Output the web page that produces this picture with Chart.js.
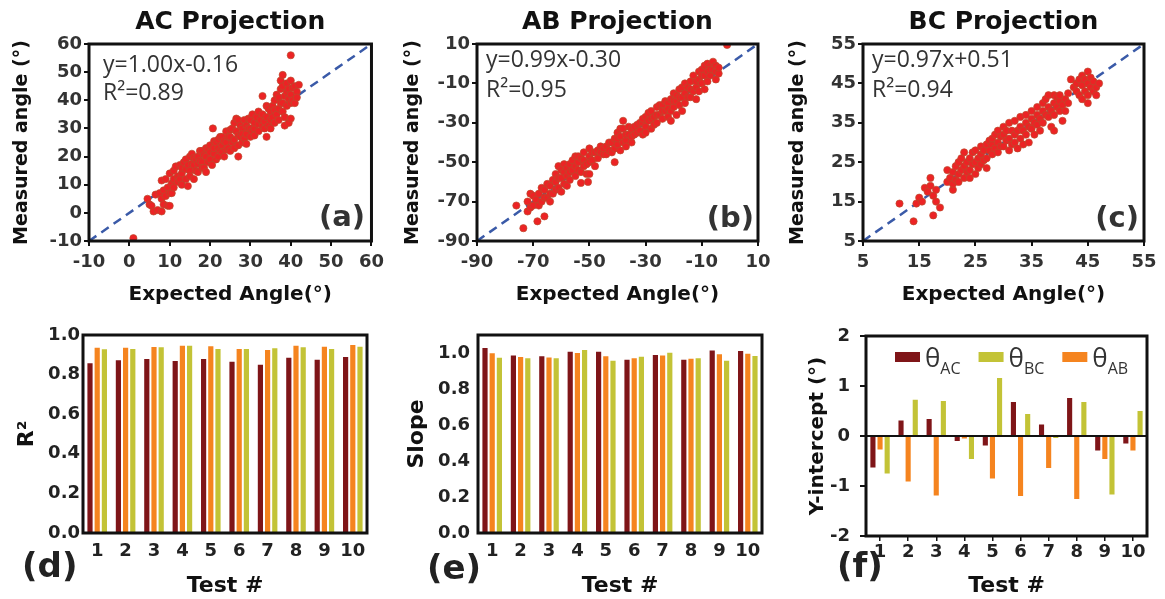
<!DOCTYPE html>
<html>
<head>
<meta charset="utf-8">
<script src="https://cdn.jsdelivr.net/npm/chart.js@4.4.1/dist/chart.umd.min.js"></script>
<style>
  body { margin: 0; background: #fff; }
  #page { position: relative; width: 1165px; height: 599px; overflow: hidden; background: #fff; }
  #page canvas { position: absolute; }
</style>
</head>
<body>
<div id="page">
  <canvas id="chartA" width="390" height="310" style="left:0;top:0"></canvas>
  <canvas id="chartB" width="390" height="310" style="left:390px;top:0"></canvas>
  <canvas id="chartC" width="390" height="310" style="left:775px;top:0"></canvas>
  <canvas id="chartD" width="390" height="289" style="left:0;top:310px"></canvas>
  <canvas id="chartE" width="390" height="289" style="left:390px;top:310px"></canvas>
  <canvas id="chartF" width="390" height="289" style="left:775px;top:310px"></canvas>
</div>
<script>
// ---- measured vs expected angles (degrees), [expected, measured]
const acPoints = [
  [1,-9],[4.5,5],[5,3],[5.5,2.5],[6,0.5],[6.5,6.5],[7,1],[7.5,7],[8,0.5],[8,5],[8,11.5],[8.5,3],[8.5,8],[9,6],
  [9,12],[9.5,2.5],[9.5,9],[10,2.5],[10,14],[10,7],[10.5,10.5],[10.5,7],[11,9],[11,12],
  [11,15],[11.5,16.5],[12,13],[12,11],[12.5,12],[12.5,17],[13,14],[13,10],[13,16],[13.5,18],[14,19],[14,12],
  [14,15.5],[14.5,17],[14.5,9.5],[15,15],[15,20],[15,13],[15.5,21],[15.5,17.5],[16,12],[16,17],[16,19.5],
  [16.5,19],[16.5,15],[17,20],[17,14.5],[17,17.5],[17.5,22],[17.5,18.5],[18,18],[18,22],[18,16],[18.5,16],
  [18.5,20.5],[19,20],[19,14.5],[19,23],[19.5,22.5],[19.5,18],[20,19],[20,24],[20,21.5],[20.5,17],[20.7,30],
  [21,21],[21,23],[21,25.5],[21.5,25],[21.5,19],[22,20],[22,26],[22,23],[22.5,22],[22.5,27],[23,24],[23,27],
  [23,21.5],[23.5,20],[23.5,25.5],[24,25],[24,29],[24,22.5],[24.5,23],[24.5,27],[25,27],[25,22],[25,29.5],
  [25.5,25],[25.5,30],[26,26],[26,32],[26,23],[26.5,29],[26.5,33.5],[27,20],[27,24],[27,33],[27,27.5],
  [27.5,27],[27.5,31],[28,30],[28,25],[28,28],[28.5,33],[28.5,26.5],[29,28],[29,31],[29,24.5],[29.5,30],
  [29.5,33.5],[30,27],[30,33],[30,30],[30.5,35],[30.5,29],[31,30],[31,32],[31,27.5],[31.5,34],[32,29],
  [32,36],[32,31.5],[32.5,33],[33,31],[33,41.5],[33,35],[33.5,30],[33.5,32.5],[34,27],[34,34],[34,38],
  [34.5,37],[34.5,31],[35,33],[35,30],[35,36],[35.5,38],[35.5,34],[36,32],[36,40],[36,36.5],[36.5,35],
  [36.5,42],[37,41],[37,37],[37,33],[37.5,47],[37.5,44],[37.5,39],[38,49],[38,45],[38,39],[38,36],
  [38.5,34],[38.5,31],[38.5,41.5],[39,43],[39,38],[39,46],[39.5,32],[39.5,44],[39.5,40.5],[40,47],[40,42],
  [40,33.5],[40,39],[40,56],[40.5,40],[40.5,44.5],[41,45],[41,39],[41.5,43],[42,45.5],[41.5,41]
];

const abPoints = [
  [-1,9.5],[-73.5,-83.5],[-76,-72],[-68.5,-80],[-66,-77.5],[-53,-60.5],[-50.5,-60],[-41,-50],
  [-72,-75],[-72,-70],[-71,-73],[-71,-66],[-70,-72],[-70,-67],[-69,-69],[-68,-72],[-68,-66],[-67,-70],
  [-67,-63],[-66,-64],[-66,-68],[-65,-68],[-65,-61],[-64,-62],[-64,-70],[-64,-66],[-63,-66],[-63,-59],
  [-62,-60],[-62,-56],[-62,-64],[-61,-63],[-61,-52],[-61,-58],[-60,-58],[-60,-65],[-60,-54],[-59,-55],
  [-59,-61],[-59,-51],[-58,-53],[-58,-57],[-58,-62],[-57,-59],[-57,-51],[-57,-55],[-56,-54],[-56,-49],
  [-55,-52],[-55,-57],[-55,-47],[-54,-50],[-54,-47],[-54,-54],[-53,-55],[-53,-48],[-52,-49],[-52,-45],
  [-52,-52],[-51,-51],[-51,-56],[-50,-47],[-50,-43],[-50,-56],[-50,-50],[-49,-49],[-49,-45],[-48,-45],
  [-48,-52],[-47,-44],[-47,-48],[-46,-42],[-46,-45],[-45,-46],[-45,-43],[-44,-42],[-44,-46],[-43,-44],
  [-43,-40],[-42,-40],[-42,-45],[-41,-38],[-41,-43],[-40,-35],[-40,-41],[-40,-38],[-39,-37],[-39,-44],
  [-39,-33],[-38,-29],[-38,-33],[-38,-40],[-37,-39],[-37,-42],[-37,-36],[-36,-36],[-36,-32],[-35,-33],
  [-35,-40],[-35,-37],[-34,-36],[-34,-32],[-33,-31],[-33,-35],[-32,-34],[-32,-30],[-31,-30],[-31,-36],
  [-31,-28],[-30,-32],[-30,-27],[-30,-35],[-29,-29],[-29,-25],[-28,-33],[-28,-24],[-28,-28],[-27,-27],
  [-27,-31],[-26,-30],[-26,-22],[-26,-26],[-25,-26],[-25,-21],[-24,-28],[-24,-21],[-24,-24],[-23,-24],
  [-23,-19],[-22,-20],[-22,-27],[-22,-23],[-21,-18],[-21,-24],[-21,-29],[-20,-22],[-20,-15],[-20,-19],
  [-19,-26],[-19,-19],[-19,-16],[-18,-13],[-18,-21],[-18,-17],[-17,-17],[-17,-24],[-17,-12],[-16,-15],
  [-16,-20],[-16,-10],[-15,-12],[-15,-17],[-14,-17],[-14,-9],[-14,-13],[-13,-14],[-13,-6],[-12,-12],
  [-12,-18],[-12,-9],[-11,-8],[-11,-14],[-11,-4],[-10,-10],[-10,-3],[-10,-6],[-9,-6],[-9,-13],[-9,-1],
  [-8,-4],[-8,-9],[-8,0],[-7,-1],[-7,-6],[-7,-3],[-6,-3],[-6,1],[-5,-1],[-5,-8],[-5,-4],[-4,-5],[-4,-2]
];

const bcPoints = [
  [11.5,14.5],[14,10],[14.5,14.5],[15,16],[15.5,15],[16,18.5],[16.5,17.5],[17,19],[17,21],[17.5,11.5],
  [17.5,16.5],[18,15],[18,18],[18.7,13.5],
  [20,23],[20,20],[20.5,21],[21,18],[21,22.5],[21,19.5],[21.5,24],[21.5,20.5],[22,22],[22,25],[22,20],
  [22.5,23],[22.5,26],[23,21],[23,24],[23,27.5],[23.5,22.5],[23.5,25],[24,23],[24,26],[24,21],[24.5,24.5],
  [24.5,27.5],[25,22],[25,25],[25,28],[25.5,26],[25.5,23.5],[26,27],[26,24.5],[26,29],[26.5,25.5],[26.5,28],
  [27,26],[27,29.5],[27,23.5],[27.5,28],[27.5,30.5],[28,27],[28,29.5],[28,31],[28.5,28.5],[28.5,32],[29,30],
  [29,27.5],[29,33],[29.5,29],[29.5,31.5],[30,32],[30,29],[30,34],[30.5,30.5],[30.5,33],[31,31],[31,28],
  [31,35],[31.5,33],[31.5,29.5],[32,32],[32,35.5],[32,30],[32.5,33],[32.5,28.5],[33,34],[33,31],[33,36.5],
  [33.5,33],[33.5,29.5],[34,35],[34,32],[34,37],[34.5,34],[34.5,30],[35,36],[35,33.5],[35,38],[35.5,35],
  [35.5,32],[36,37],[36,34.5],[36,39],[36.5,36],[36.5,33],[37,38],[37,35],[37,40],[37.5,37],[37.5,41],
  [38,39],[38,36.5],[38,42],[38.5,38],[38.5,34],[39,40],[39,37],[39,42],[39,33],[39.5,39],[39.5,41.5],
  [40,40.5],[40,38],[40,42],[40.5,39.5],[40.5,35.5],[41,41],[41,38],[41.5,40],[41.5,42.5],[42,46],
  [42.5,44],[43,43],[43,45],[43.5,46],[43.5,42],[44,44.5],[44,41],[44,47],[44.5,43],[44.5,46],[45,45],
  [45,42],[45,48],[45,40],[45.5,44],[45.5,46.5],[46,43],[46,45.5],[46.5,44],[46.5,42],[47,45]
];

// ---- per-test fit parameters
const testLabels = ['1', '2', '3', '4', '5', '6', '7', '8', '9', '10'];

const r2AC = [0.863, 0.877, 0.884, 0.874, 0.884, 0.870, 0.855, 0.890, 0.880, 0.894];
const r2AB = [0.941, 0.941, 0.944, 0.951, 0.948, 0.934, 0.929, 0.951, 0.946, 0.954];
const r2BC = [0.933, 0.934, 0.943, 0.951, 0.934, 0.934, 0.938, 0.943, 0.934, 0.946];

const slopeAC = [1.034, 0.991, 0.987, 1.013, 1.013, 0.968, 0.994, 0.968, 1.019, 1.017];
const slopeAB = [1.004, 0.983, 0.981, 1.006, 0.987, 0.976, 0.991, 0.974, 0.998, 1.002];
const slopeBC = [0.979, 0.976, 0.976, 1.022, 0.963, 0.985, 1.007, 0.976, 0.963, 0.989];

const interceptAC = [-0.65, 0.33, 0.36, -0.12, -0.21, 0.70, 0.25, 0.78, -0.31, -0.17];
const interceptAB = [-0.29, -0.93, -1.21, -0.07, -0.87, -1.22, -0.66, -1.28, -0.48, -0.31];
const interceptBC = [-0.77, 0.745, 0.72, -0.48, 1.18, 0.46, -0.06, 0.70, -1.19, 0.52];

const COLORS = {
  ac: '#7f1518',
  ab: '#f5841f',
  bc: '#c3c336',
  dot: '#ec2325',
  fit: '#3a5aa8',
  text: '#333333'
};

const BOLD = "'DejaVu Sans', sans-serif";
const PLAIN = "'Open Sans', 'Noto Sans', sans-serif";

// black box around every plot area
Chart.register({
  id: 'frame',
  afterDraw(chart) {
    const { ctx, chartArea: a } = chart;
    ctx.save();
    ctx.strokeStyle = '#111';
    ctx.lineWidth = 3;
    ctx.strokeRect(a.left, a.top, a.right - a.left, a.bottom - a.top);
    ctx.restore();
  }
});

// free text (fit equations, panel letters) in canvas coordinates
function notes(items) {
  return {
    id: 'notes',
    afterDraw(chart) {
      const ctx = chart.ctx;
      items.forEach(n => {
        ctx.save();
        ctx.font = n.font;
        ctx.fillStyle = n.color || COLORS.text;
        ctx.textAlign = n.align || 'left';
        ctx.textBaseline = 'middle';
        ctx.fillText(n.text, n.x, n.y);
        ctx.restore();
      });
    }
  };
}

function scatterPanel(id, cfg) {
  const [lo, hi] = cfg.range;
  new Chart(document.getElementById(id), {
    type: 'scatter',
    data: {
      datasets: [
        {
          data: cfg.points.map(p => ({ x: p[0], y: p[1] })),
          pointRadius: 3.6,
          backgroundColor: COLORS.dot,
          borderColor: 'rgba(185,75,45,0.85)',
          borderWidth: 0.8,
          order: 0
        },
        {
          type: 'line',
          data: [{ x: lo, y: lo }, { x: hi, y: hi }],
          borderColor: COLORS.fit,
          borderWidth: 2.5,
          borderDash: [9, 6],
          pointRadius: 0,
          order: 1
        }
      ]
    },
    options: {
      responsive: false,
      animation: false,
      events: [],
      layout: { padding: { right: cfg.padRight } },
      plugins: {
        legend: { display: false },
        tooltip: { enabled: false },
        title: {
          display: true,
          text: cfg.title,
          fullSize: false,
          color: '#111',
          font: { family: BOLD, size: 25, weight: 'bold' },
          padding: { top: 7, bottom: 7 }
        }
      },
      scales: {
        x: {
          type: 'linear',
          min: lo,
          max: hi,
          border: { display: false },
          grid: { drawOnChartArea: false, tickLength: 5, color: '#111', lineWidth: 2 },
          ticks: { stepSize: cfg.step, color: COLORS.text, padding: 6, font: { family: BOLD, size: 18, weight: 'bold' } },
          title: {
            display: true,
            text: 'Expected Angle(°)',
            color: '#111',
            font: { family: BOLD, size: 20, weight: 'bold' },
            padding: { top: 0, bottom: 3 }
          },
          afterFit: s => { s.height = 69; }
        },
        y: {
          min: lo,
          max: hi,
          border: { display: false },
          grid: { drawOnChartArea: false, tickLength: 5, color: '#111', lineWidth: 2 },
          ticks: { stepSize: cfg.step, color: COLORS.text, padding: 2, font: { family: BOLD, size: 18, weight: 'bold' } },
          title: {
            display: true,
            text: 'Measured angle (°)',
            color: '#111',
            font: { family: BOLD, size: 19, weight: 'bold' },
            padding: { top: cfg.titlePad, bottom: 0 }
          },
          afterFit: s => { s.width = cfg.axisWidth; }
        }
      }
    },
    plugins: [notes(cfg.notes)]
  });
}

function barPanel(id, cfg) {
  new Chart(document.getElementById(id), {
    type: 'bar',
    data: {
      labels: testLabels,
      datasets: cfg.series.map(s => ({
        label: s.label,
        data: s.data,
        backgroundColor: s.color,
        borderColor: 'rgba(255,255,255,0.5)',
        borderWidth: 1,
        categoryPercentage: 0.76,
        barPercentage: 1
      }))
    },
    options: {
      responsive: false,
      animation: false,
      events: [],
      layout: { padding: { top: cfg.top, right: cfg.padRight } },
      plugins: { legend: { display: false }, tooltip: { enabled: false } },
      scales: {
        x: {
          border: { display: false },
          grid: cfg.xGrid,
          ticks: {
            autoSkip: false,
            maxRotation: 0,
            minRotation: 0,
            color: '#222',
            padding: cfg.xPad,
            font: { family: BOLD, size: 18, weight: 'bold' }
          },
          title: {
            display: true,
            text: 'Test #',
            color: '#111',
            font: { family: BOLD, size: 22, weight: 'bold' },
            padding: { top: 0, bottom: 0 }
          },
          afterFit: s => { s.height = cfg.xHeight; }
        },
        y: {
          min: cfg.min,
          max: cfg.max,
          border: { display: false },
          grid: cfg.yGrid,
          ticks: {
            stepSize: cfg.step,
            includeBounds: false,
            color: '#222',
            padding: cfg.yPad,
            font: { family: BOLD, size: 18, weight: 'bold' },
            callback: cfg.format
          },
          title: {
            display: true,
            text: cfg.yTitle,
            color: '#111',
            font: { family: BOLD, size: cfg.yTitleSize, weight: 'bold' },
            padding: { top: cfg.titlePad, bottom: 0 }
          },
          afterFit: s => { s.width = cfg.axisWidth; }
        }
      }
    },
    plugins: cfg.plugins
  });
}

// legend with subscripted angle names, in the order AC, BC, AB
function subscriptLegend(entries, startX, y) {
  return {
    id: 'subLegend',
    afterDraw(chart) {
      const ctx = chart.ctx;
      let x = startX;
      ctx.save();
      entries.forEach(e => {
        ctx.fillStyle = e.color;
        ctx.fillRect(x, y - 5, 25, 10);
        x += 30;
        ctx.fillStyle = COLORS.text;
        ctx.textBaseline = 'alphabetic';
        ctx.font = `26px ${PLAIN}`;
        ctx.fillText('θ', x, y + 10);
        x += ctx.measureText('θ').width;
        ctx.font = `16px ${PLAIN}`;
        ctx.fillText(e.sub, x, y + 17);
        x += ctx.measureText(e.sub).width + 18;
      });
      ctx.restore();
    }
  };
}

const fixed1 = v => v.toFixed(1);
const noGrid = { display: false, drawTicks: false };

scatterPanel('chartA', {
  title: 'AC Projection', points: acPoints, range: [-10, 60], step: 10,
  axisWidth: 89, padRight: 18, titlePad: 11,
  notes: [
    { text: 'y=1.00x-0.16', x: 103, y: 65, font: `23px ${PLAIN}` },
    { text: 'R²=0.89', x: 103, y: 93, font: `23px ${PLAIN}` },
    { text: '(a)', x: 365, y: 218, align: 'right', font: `bold 29px ${BOLD}` }
  ]
});

scatterPanel('chartB', {
  title: 'AB Projection', points: abPoints, range: [-90, 10], step: 20,
  axisWidth: 87, padRight: 22, titlePad: 12,
  notes: [
    { text: 'y=0.99x-0.30', x: 96, y: 60, font: `23px ${PLAIN}` },
    { text: 'R²=0.95', x: 96, y: 90, font: `23px ${PLAIN}` },
    { text: '(b)', x: 364, y: 219, align: 'right', font: `bold 29px ${BOLD}` }
  ]
});

scatterPanel('chartC', {
  title: 'BC Projection', points: bcPoints, range: [5, 55], step: 10,
  axisWidth: 88, padRight: 21, titlePad: 12,
  notes: [
    { text: 'y=0.97x+0.51', x: 97, y: 60, font: `23px ${PLAIN}` },
    { text: 'R²=0.94', x: 97, y: 90, font: `23px ${PLAIN}` },
    { text: '(c)', x: 364, y: 219, align: 'right', font: `bold 29px ${BOLD}` }
  ]
});

barPanel('chartD', {
  series: [
    { label: 'θAC', data: r2AC, color: COLORS.ac },
    { label: 'θAB', data: r2AB, color: COLORS.ab },
    { label: 'θBC', data: r2BC, color: COLORS.bc }
  ],
  min: 0, max: 1, step: 0.2, format: fixed1,
  yTitle: 'R²', yTitleSize: 22, titlePad: 14,
  top: 25, padRight: 23, axisWidth: 83, xHeight: 66,
  xGrid: noGrid, yGrid: noGrid, xPad: 8, yPad: 3,
  plugins: [notes([{ text: '(d)', x: 22, y: 258, font: `bold 34px ${BOLD}`, color: '#222' }])]
});

barPanel('chartE', {
  series: [
    { label: 'θAC', data: slopeAC, color: COLORS.ac },
    { label: 'θAB', data: slopeAB, color: COLORS.ab },
    { label: 'θBC', data: slopeBC, color: COLORS.bc }
  ],
  min: 0, max: 1.1, step: 0.2, format: fixed1,
  yTitle: 'Slope', yTitleSize: 22, titlePad: 14,
  top: 25, padRight: 18, axisWidth: 88, xHeight: 66,
  xGrid: noGrid, yGrid: noGrid, xPad: 8, yPad: 8,
  plugins: [notes([{ text: '(e)', x: 37, y: 260, font: `bold 34px ${BOLD}`, color: '#222' }])]
});

barPanel('chartF', {
  series: [
    { label: 'θAC', data: interceptAC, color: COLORS.ac },
    { label: 'θAB', data: interceptAB, color: COLORS.ab },
    { label: 'θBC', data: interceptBC, color: COLORS.bc }
  ],
  min: -2, max: 2, step: 1, format: v => String(v),
  yTitle: 'Y-intercept (°)', yTitleSize: 20, titlePad: 31,
  top: 26, padRight: 18, axisWidth: 91, xHeight: 63,
  xGrid: { offset: false, drawOnChartArea: false, tickLength: 5, color: '#111', lineWidth: 1.5 },
  yGrid: {
    tickLength: 6,
    tickColor: '#111',
    lineWidth: 2,
    color: c => (c.tick && c.tick.value === 0 ? '#111' : 'rgba(0,0,0,0)')
  },
  xPad: 1, yPad: 10,
  plugins: [
    notes([{ text: '(f)', x: 62, y: 258, font: `bold 34px ${BOLD}`, color: '#222' }]),
    subscriptLegend([
      { sub: 'AC', color: COLORS.ac },
      { sub: 'BC', color: COLORS.bc },
      { sub: 'AB', color: COLORS.ab }
    ], 120, 47)
  ]
});
</script>
</body>
</html>
